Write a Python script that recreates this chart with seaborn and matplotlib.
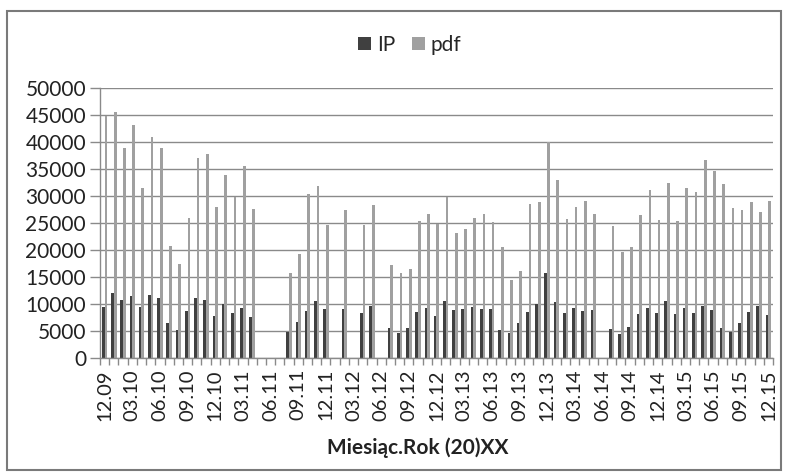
import numpy as np
import pandas as pd
import matplotlib
matplotlib.use('Agg')
import matplotlib.pyplot as plt
import seaborn as sns
from matplotlib.patches import Rectangle, Patch
from matplotlib.ticker import FixedLocator

nan = np.nan

# 73 monthly categories from 12.09 to 12.15
months = ['12.09'] + [f'{m:02d}.{y:02d}' for y in range(10, 16) for m in range(1, 13)]

ip = [9500, 12000, 10700, 11400, 9500, 11600, 11100, 6400, 5200, 8700,
      11100, 10700, 7700, 10000, 8400, 9300, 7600, nan, nan, nan,
      4900, 6600, 8700, 10600, 9100, nan, 9100, nan, 8300, 9700,
      nan, 5600, 4600, 5600, 8500, 9300, 7700, 10500, 8900, 9100,
      9500, 9100, 9100, 5200, 4600, 6400, 8500, 10000, 15700, 10300,
      8300, 9300, 8700, 8900, nan, 5400, 4500, 5700, 8100, 9300,
      8400, 10500, 8100, 9300, 8400, 9700, 8900, 5600, 4900, 6400,
      8500, 9700, 7900]

pdf = [44900, 45500, 38900, 43200, 31400, 41000, 38900, 20800, 17500, 26000,
       37100, 37700, 27900, 33900, 29900, 35600, 27600, nan, nan, nan,
       15700, 19200, 30300, 31900, 24600, nan, 27500, nan, 24600, 28400,
       nan, 17200, 15700, 16400, 25300, 26700, 24900, 29800, 23100, 23800,
       26000, 26700, 25200, 20500, 14500, 16100, 28500, 28800, 40000, 32900,
       25700, 27900, 29000, 26700, nan, 24400, 19600, 20500, 26500, 31100,
       25500, 32500, 25300, 31400, 30800, 36600, 34600, 32200, 27700, 27500,
       28800, 27100, 29000]

series = ['IP', 'pdf']
colors = ['#404040', '#a0a0a0']
tick_labels = months[::3]
yticks = list(range(0, 50001, 5000))
x_title = 'Miesiąc.Rok (20)XX'

sns.set_theme(style='white')
plt.rcParams['font.family'] = ['Lato', 'DejaVu Sans']

df = pd.DataFrame({
    'month': months * 2,
    'value': ip + pdf,
    'series': ['IP'] * len(months) + ['pdf'] * len(months),
})

fig = plt.figure(figsize=(7.88, 4.76), dpi=100)
ax = fig.add_axes([100 / 788, 1 - 358 / 476, 673 / 788, 270 / 476])

sns.barplot(data=df, x='month', y='value', hue='series', order=months,
            hue_order=series, palette=colors, width=0.58, errorbar=None,
            saturation=1, ax=ax, legend=False, linewidth=0, edgecolor='none')

ax.set_xlim(-0.5, len(months) - 0.5)
ax.set_ylim(0, 50000)
ax.set_axisbelow(True)
ax.yaxis.grid(True, color='#8a8a8a', lw=1)
ax.xaxis.grid(False)
for s in ['top', 'right']:
    ax.spines[s].set_visible(False)
for s in ['left', 'bottom']:
    ax.spines[s].set_color('#8a8a8a')
    ax.spines[s].set_linewidth(1)

ax.set_xticks(range(0, len(months), 3))
ax.set_xticklabels(tick_labels, rotation=90, fontsize=14.5)
ax.xaxis.set_minor_locator(FixedLocator(np.arange(-0.5, len(months), 1)))
ax.tick_params(axis='x', which='major', length=0, pad=8, colors='#222222')
ax.tick_params(axis='x', which='minor', bottom=True, length=5, width=1, color='#8a8a8a')

ax.set_yticks(yticks)
ax.set_yticklabels([str(v) for v in yticks], fontsize=15)
ax.tick_params(axis='y', left=True, length=7, width=1, color='#8a8a8a', pad=3, labelcolor='#222222')

ax.set_xlabel('')
ax.set_ylabel('')

fig.text(418 / 788, 1 - 448 / 476, x_title, ha='center', va='center',
         fontweight='bold', fontsize=15, color='#222222')

handles = [Patch(facecolor=c, edgecolor='none', label=s) for s, c in zip(series, colors)]
fig.legend(handles=handles, loc='center', bbox_to_anchor=(410 / 788, 1 - 45 / 476),
           ncol=2, frameon=False, fontsize=15, handlelength=0.6, handleheight=0.6,
           handletextpad=0.3, columnspacing=0.8)

fig.patches.append(Rectangle((7 / 788, 1 - 470 / 476), 774 / 788, 459 / 476,
                             transform=fig.transFigure, fill=False,
                             edgecolor='#7a7a7a', lw=1.5))

fig.savefig('out.png', dpi=100)
